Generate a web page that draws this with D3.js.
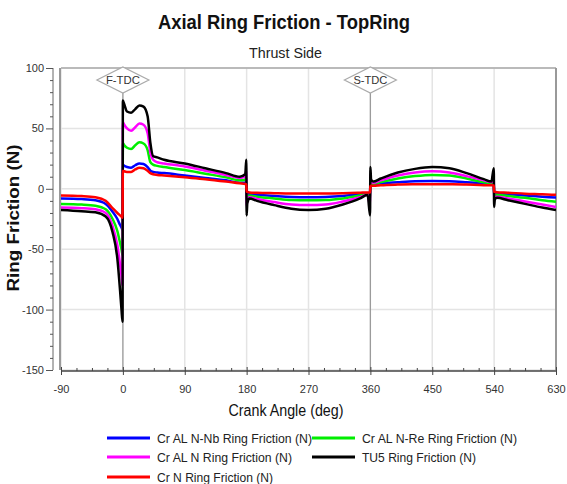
<!DOCTYPE html>
<html><head><meta charset="utf-8">
<script src="https://cdn.jsdelivr.net/npm/d3@7"></script>
<style>body{margin:0;background:#fff}svg{display:block}text{font-family:"Liberation Sans",Arial,sans-serif}</style>
</head><body><svg id="c" width="567" height="484"></svg>
<script>
const angles = [-90,-60,-40,-25,-15,-8,-4,-2,-0.5,0,2,6,12,18,24,30,36,40,44,50,60,90,120,150,170,178,179.5,180,181,184,195,220,245,270,295,320,345,356,359.5,360,361,364,375,400,425,450,475,500,525,536,539.5,540,541,544,560,585,610,630];
const blueVals = [-8,-8.5,-9.5,-12.5,-19,-25,-30,-32,-34,20,19,18,17.5,19.5,21,20.5,18,15,14,13.5,13,11,9,7,5,5,6,-5,-4.5,-4.5,-5,-6,-6.8,-7,-6.8,-6,-4.5,-4,-5,5,3.5,3.5,4.5,5.5,6.3,6.5,6.3,5.5,4.5,4,5,-4,-4,-4,-4.5,-5.5,-6.5,-7.3];
const greenVals = [-12.5,-13,-14,-17,-25,-35,-45,-50,-55,38,36,34,33,36,38.5,37.5,32,22,20,19,18,15.5,12.5,9.5,7,7.5,10,-9,-6.5,-5.5,-6.5,-8,-9.3,-9.5,-9.3,-8,-5.5,-4.5,-9,8,4.5,4,5.5,8.5,10.5,11.5,11,8.5,5.5,4.5,8,-6,-5,-5,-6,-7.5,-9.5,-10.8];
const magentaVals = [-15.5,-16,-17,-20,-31,-47,-63,-72,-80,55,53,50,48,51,54,53,46,30,24,22,21,18.5,15,11.5,9,10,15,-14,-9,-7,-8.5,-11,-13,-13.5,-13,-10.5,-7,-5,-14,12,6,5,7,11,13.5,14.5,13.5,10.5,7,5.5,12,-10,-7,-6.5,-8,-10.5,-13,-15];
const blackVals = [-17.5,-18.5,-19.5,-23,-36,-58,-85,-100,-110,73,70,64,63,66,69,68,60,38,27,26,24,21,17,13,10,12,24,-22,-12,-8,-10,-13.5,-16.5,-17.5,-16.5,-13,-8,-5,-22,18,8,6,8.5,13.5,16.5,18,17,13,8,6,17,-15,-9,-7.5,-9.5,-12.5,-15.5,-17.5];
const redVals = [-5.5,-6,-7,-10,-16,-20,-22,-23,-24,15,14.5,14,14,16,17.5,17,15,13,12,11.5,11,9.5,8,6,4.5,4,3.5,-2.5,-2.5,-3,-3.3,-3.6,-3.8,-3.8,-3.8,-3.6,-3.2,-3,-3,2,2.5,2.5,3,3.5,3.7,3.8,3.7,3.5,3,3,2.8,-2.5,-2.5,-2.8,-3.2,-4,-4.5,-5];
const seriesNames = ["Cr AL N-Nb Ring Friction (N)","Cr AL N-Re Ring Friction (N)","Cr AL N Ring Friction (N)","TU5 Ring Friction (N)","Cr N Ring Friction (N)"];
const seriesColors = ["#0000ff","#00ee00","#ff00ff","#000000","#ff0000"];
const seriesVals = [blueVals,greenVals,magentaVals,blackVals,redVals];
const xTicks = [-90,0,90,180,270,360,450,540,630];
const yTicks = [-150,-100,-50,0,50,100];
const markers = [{a:0,label:"F-TDC"},{a:360,label:"S-TDC"}];

const svg = d3.select("#c");
const L=61,R=556,T=68,B=370;
const x = d3.scaleLinear().domain([-90,630]).range([L,R]);
const y = d3.scaleLinear().domain([-150,100]).range([B,T]);

// title
svg.append("text").attr("x",284).attr("y",29).attr("text-anchor","middle").attr("font-size",20).attr("font-weight","bold").attr("fill","#111")
  .attr("textLength",252).attr("lengthAdjust","spacingAndGlyphs").text("Axial Ring Friction - TopRing");
svg.append("text").attr("x",285.5).attr("y",58).attr("text-anchor","middle").attr("font-size",14).attr("fill","#222")
  .attr("textLength",73).attr("lengthAdjust","spacingAndGlyphs").text("Thrust Side");

// grid
const g = svg.append("g");
g.selectAll(".vg").data(xTicks).enter().append("line").attr("x1",d=>x(d)).attr("x2",d=>x(d)).attr("y1",T).attr("y2",B).attr("stroke","#e4e4e4").attr("stroke-width",1.5);
g.selectAll(".hg").data(yTicks).enter().append("line").attr("x1",L).attr("x2",R).attr("y1",d=>y(d)).attr("y2",d=>y(d)).attr("stroke","#e4e4e4").attr("stroke-width",1.5);
// frame
g.append("line").attr("x1",L).attr("x2",R).attr("y1",T).attr("y2",T).attr("stroke","#aaa").attr("stroke-width",1.5);
g.append("line").attr("x1",R).attr("x2",R).attr("y1",T).attr("y2",B).attr("stroke","#999").attr("stroke-width",2);
g.append("line").attr("x1",L-1).attr("x2",L-1).attr("y1",T).attr("y2",B).attr("stroke","#999").attr("stroke-width",2);

// TDC lines
markers.forEach(m=>{
  g.append("line").attr("x1",x(m.a)).attr("x2",x(m.a)).attr("y1",T+25).attr("y2",B).attr("stroke","#999").attr("stroke-width",1.2);
});

// y axis
const yAxis = d3.axisLeft(y).tickValues(d3.range(-150,101,10)).tickSize(3).tickFormat(d=>yTicks.includes(d)?d:"");
const ya = svg.append("g").attr("transform",`translate(53,0)`).attr("color","#444").call(yAxis);
ya.selectAll(".tick line").attr("x2",d=>yTicks.includes(d)?-7:-3).attr("stroke","#555");
ya.selectAll(".tick text").attr("x",-9).attr("font-size",11).attr("fill","#333").attr("font-family","Liberation Sans, Arial, sans-serif");
ya.select(".domain").attr("stroke","#666").attr("d",`M0,${T}V${B}`);

// x axis
const xAxis = d3.axisBottom(x).tickValues(d3.range(-90,631,22.5)).tickSize(0).tickFormat(d=>xTicks.includes(d)?d:"");
const xa = svg.append("g").attr("transform",`translate(0,${B+1})`).attr("color","#444").call(xAxis);
xa.select(".domain").attr("stroke","#444").attr("stroke-width",1.5).attr("d",`M${L},0H${R}`);
xa.selectAll(".tick line").attr("y1",d=>xTicks.includes(d)?-4:-3).attr("y2",d=>xTicks.includes(d)?4:0).attr("stroke","#444");
xa.selectAll(".tick text").attr("y",14).attr("font-size",11).attr("fill","#333").attr("font-family","Liberation Sans, Arial, sans-serif");

// axis titles
svg.append("text").attr("x",286).attr("y",416).attr("text-anchor","middle").attr("font-size",16).attr("fill","#111")
  .attr("textLength",115).attr("lengthAdjust","spacingAndGlyphs").text("Crank Angle (deg)");
svg.append("text").attr("transform","translate(19,218) rotate(-90)").attr("text-anchor","middle").attr("font-size",16).attr("font-weight","bold").attr("fill","#111")
  .attr("textLength",147).attr("lengthAdjust","spacingAndGlyphs").text("Ring Friction (N)");

// series
const line = d3.line().x((d,i)=>x(angles[i])).y(d=>y(d)).curve(d3.curveMonotoneX);
const clip = svg.append("clipPath").attr("id","cp").append("rect").attr("x",L).attr("y",T).attr("width",R-L).attr("height",B-T);
const sg = svg.append("g").attr("clip-path","url(#cp)");
seriesVals.forEach((vals,k)=>{
  sg.append("path").attr("d",line(vals)).attr("fill","none").attr("stroke",seriesColors[k]).attr("stroke-width",2.5).attr("stroke-linejoin","round");
});

// TDC diamonds
markers.forEach(m=>{
  const cx=x(m.a), cy=T+12;
  svg.append("path").attr("d",`M${cx-26},${cy}L${cx},${cy-13}L${cx+26},${cy}L${cx},${cy+13}Z`).attr("fill","#fff").attr("stroke","#aaa").attr("stroke-width",1.2);
  svg.append("text").attr("x",cx).attr("y",cy+4).attr("text-anchor","middle").attr("font-size",11).attr("fill","#333").attr("textLength",34).attr("lengthAdjust","spacingAndGlyphs").text(m.label);
});

// legend
const legPos = [[107,438],[312,438],[107,457],[312,457],[107,477]];
const legW = [155,155,135,114,116];
seriesNames.forEach((n,k)=>{
  const [lx,ly]=legPos[k];
  svg.append("line").attr("x1",lx).attr("x2",lx+43).attr("y1",ly).attr("y2",ly).attr("stroke",seriesColors[k]).attr("stroke-width",3);
  svg.append("text").attr("x",lx+50).attr("y",ly+5).attr("font-size",13).attr("fill","#222")
    .attr("textLength",legW[k]).attr("lengthAdjust","spacingAndGlyphs").text(n);
});
</script></body></html>
